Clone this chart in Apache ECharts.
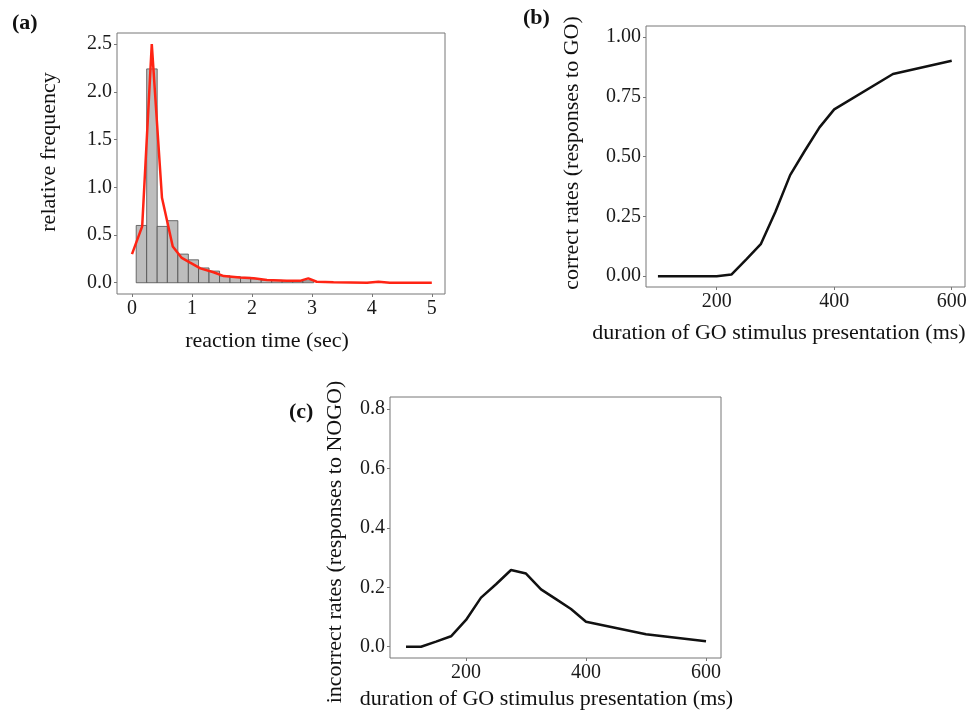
<!DOCTYPE html>
<html>
<head>
<meta charset="utf-8">
<script src="https://cdn.jsdelivr.net/npm/echarts@6/dist/echarts.min.js"></script>
<style>
  html, body { margin: 0; padding: 0; background: #fff; }
  #chart { width: 973px; height: 719px; }
</style>
</head>
<body>
<div id="chart"></div>
<script>
// ---- Panel (a): reaction time histogram + density ----
const aBinEdges = [0.07, 0.245, 0.42, 0.59, 0.765, 0.94, 1.11, 1.285, 1.46, 1.635, 1.81, 1.98, 2.155, 2.33, 2.505, 2.68, 2.85, 3.03];
const aBinHeights = [0.60, 2.24, 0.59, 0.65, 0.30, 0.24, 0.155, 0.122, 0.072, 0.063, 0.056, 0.042, 0.028, 0.025, 0.021, 0.017, 0.02];
const aDensityX = [0, 0.17, 0.33, 0.5, 0.68, 0.83, 0.97, 1.14, 1.36, 1.53, 1.8, 2.03, 2.25, 2.58, 2.8, 2.94, 3.08, 3.36, 3.92, 4.11, 4.3, 5.0];
const aDensityY = [0.30, 0.59, 2.5, 0.89, 0.38, 0.26, 0.21, 0.15, 0.11, 0.07, 0.056, 0.046, 0.028, 0.02, 0.02, 0.046, 0.01, 0.004, 0.0, 0.01, 0.0, 0.0];
const aXTicks = [0, 1, 2, 3, 4, 5];
const aYTicks = [0, 0.5, 1.0, 1.5, 2.0, 2.5];

// ---- Panels (b) and (c): rates vs GO duration ----
const durations = [100, 125, 150, 175, 200, 225, 250, 275, 300, 325, 350, 375, 400, 500, 600];
const correctRates = [0, 0, 0, 0, 0, 0.007, 0.07, 0.134, 0.27, 0.423, 0.525, 0.623, 0.698, 0.846, 0.902];
const incorrectRates = [0, 0, 0.017, 0.035, 0.09, 0.165, 0.21, 0.258, 0.246, 0.193, 0.16, 0.127, 0.084, 0.042, 0.018];
const durTicks = [200, 400, 600];
const bYTicks = [0, 0.25, 0.5, 0.75, 1.0];
const cYTicks = [0, 0.2, 0.4, 0.6, 0.8];

// ---- Text ----
const panelLabels = ['(a)', '(b)', '(c)'];
const aXTitle = 'reaction time (sec)';
const aYTitle = 'relative frequency';
const bYTitle = 'correct rates (responses to GO)';
const cYTitle = 'incorrect rates (responses to NOGO)';
const durTitle = 'duration of GO stimulus presentation (ms)';

const FONT = '"Liberation Serif", "Times New Roman", serif';
const tickFont = 20;
const titleFont = 22;

const chart = echarts.init(document.getElementById('chart'), null, { renderer: 'canvas' });

function xAxisCfg(gridIndex, min, max, ticks, fmt) {
  return {
    type: 'value', gridIndex, min, max,
    axisLine: { show: false, onZero: false },
    splitLine: { show: false },
    axisTick: { show: true, length: 3, lineStyle: { color: '#777', width: 1 }, customValues: ticks },
    axisLabel: { customValues: ticks, margin: 5, color: '#1a1a1a', fontFamily: FONT, fontSize: tickFont, formatter: fmt }
  };
}
function yAxisCfg(gridIndex, min, max, ticks, fmt) {
  return {
    type: 'value', gridIndex, min, max,
    axisLine: { show: false, onZero: false },
    splitLine: { show: false },
    axisTick: { show: true, length: 3, lineStyle: { color: '#777', width: 1 }, customValues: ticks },
    axisLabel: { customValues: ticks, margin: 5, color: '#1a1a1a', fontFamily: FONT, fontSize: tickFont, formatter: fmt }
  };
}

const histData = aBinHeights.map((h, i) => [aBinEdges[i], aBinEdges[i + 1], h]);
const densityData = aDensityX.map((x, i) => [x, aDensityY[i]]);
const correctData = durations.map((d, i) => [d, correctRates[i]]);
const incorrectData = durations.map((d, i) => [d, incorrectRates[i]]);

function txt(text, x, y, opts) {
  opts = opts || {};
  return {
    type: 'text', x, y, rotation: opts.rot || 0, silent: true,
    style: {
      text, fill: '#111',
      font: (opts.bold ? 'bold ' : '') + (opts.size || titleFont) + 'px ' + FONT,
      align: opts.align || 'center', verticalAlign: opts.valign || 'middle'
    }
  };
}

const option = {
  backgroundColor: '#ffffff',
  animation: false,
  grid: [
    { left: 117, top: 33, width: 328, height: 261, show: true, borderColor: '#777', borderWidth: 1, backgroundColor: 'transparent' },
    { left: 646, top: 26, width: 319, height: 261, show: true, borderColor: '#777', borderWidth: 1, backgroundColor: 'transparent' },
    { left: 390, top: 397, width: 331, height: 261, show: true, borderColor: '#777', borderWidth: 1, backgroundColor: 'transparent' }
  ],
  xAxis: [
    xAxisCfg(0, -0.25, 5.22, aXTicks, v => String(v)),
    xAxisCfg(1, 79.7, 622.6, durTicks, v => String(v)),
    xAxisCfg(2, 73.3, 625, durTicks, v => String(v))
  ],
  yAxis: [
    yAxisCfg(0, -0.118, 2.616, aYTicks, v => v.toFixed(1)),
    yAxisCfg(1, -0.045, 1.047, bYTicks, v => v.toFixed(2)),
    yAxisCfg(2, -0.038, 0.84, cYTicks, v => v.toFixed(1))
  ],
  series: [
    {
      type: 'custom', xAxisIndex: 0, yAxisIndex: 0,
      data: histData,
      encode: { x: [0, 1], y: 2 },
      renderItem: function (params, api) {
        const p0 = api.coord([api.value(0), api.value(2)]);
        const p1 = api.coord([api.value(1), 0]);
        return {
          type: 'rect',
          shape: { x: p0[0], y: p0[1], width: p1[0] - p0[0], height: p1[1] - p0[1] },
          style: { fill: '#bdbdbd', stroke: '#4d4d4d', lineWidth: 0.8 }
        };
      }
    },
    {
      type: 'line', xAxisIndex: 0, yAxisIndex: 0,
      data: densityData, showSymbol: false, smooth: false,
      lineStyle: { color: '#ff2414', width: 2.5 }, z: 5
    },
    {
      type: 'line', xAxisIndex: 1, yAxisIndex: 1,
      data: correctData, showSymbol: false, smooth: false,
      lineStyle: { color: '#111', width: 2.5 }
    },
    {
      type: 'line', xAxisIndex: 2, yAxisIndex: 2,
      data: incorrectData, showSymbol: false, smooth: false,
      lineStyle: { color: '#111', width: 2.5 }
    }
  ],
  graphic: [
    txt(panelLabels[0], 12, 23, { bold: true, align: 'left' }),
    txt(panelLabels[1], 523, 18, { bold: true, align: 'left' }),
    txt(panelLabels[2], 289, 412, { bold: true, align: 'left' }),
    txt(aYTitle, 49, 152, { rot: Math.PI / 2 }),
    txt(aXTitle, 267, 341),
    txt(bYTitle, 572, 153, { rot: Math.PI / 2 }),
    txt(durTitle, 779, 333),
    txt(cYTitle, 335, 542, { rot: Math.PI / 2 }),
    txt(durTitle, 546.5, 699)
  ]
};

chart.setOption(option);
</script>
</body>
</html>
